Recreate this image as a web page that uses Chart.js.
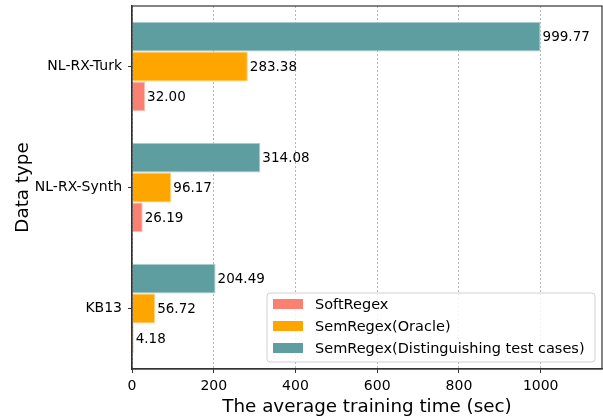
<!DOCTYPE html>
<html>
<head>
<meta charset="utf-8">
<script src="https://cdn.jsdelivr.net/npm/chart.js@4.4.1/dist/chart.umd.min.js"></script>
<style>
    html, body { margin: 0; padding: 0; background: #ffffff; }
    #wrap { width: 603px; height: 419px; }
</style>
</head>
<body>
<div id="wrap"><canvas id="chart" width="603" height="419"></canvas></div>
<script>
/* Data */
const categories = ['NL-RX-Turk', 'NL-RX-Synth', 'KB13'];
const softRegex = [32.00, 26.19, 4.18];
const semRegexOracle = [283.38, 96.17, 56.72];
const semRegexDistinguishing = [999.77, 314.08, 204.49];
const xTicks = [0, 200, 400, 600, 800, 1000];

const FONT = 'DejaVu Sans';

// legend is drawn by hand (inside the plot, lower right, mpl order)
const legendItems = [
    { label: 'SoftRegex', color: '#FA8072' },
    { label: 'SemRegex(Oracle)', color: '#FFA500' },
    { label: 'SemRegex(Distinguishing test cases)', color: '#5F9EA0' },
];

/* Value labels at the end of each bar */
const barLabels = {
    id: 'barLabels',
    afterDatasetsDraw(chart) {
        const ctx = chart.ctx;
        ctx.save();
        ctx.font = '13.5px "' + FONT + '"';
        ctx.fillStyle = '#000000';
        ctx.textBaseline = 'middle';
        ctx.textAlign = 'left';
        chart.data.datasets.forEach((ds, i) => {
            chart.getDatasetMeta(i).data.forEach((bar, j) => {
                ctx.fillText(ds.data[j].toFixed(2), bar.x + 2, bar.y + 1);
            });
        });
        ctx.restore();
    },
};

/* Box round the plot and the legend */
const frameAndLegend = {
    id: 'frameAndLegend',
    afterDraw(chart) {
        const ctx = chart.ctx;
        const a = chart.chartArea;
        ctx.save();
        ctx.strokeStyle = '#333333';
        ctx.lineWidth = 1.2;
        ctx.strokeRect(a.left, a.top, a.right - a.left, a.bottom - a.top);

        // legend box
        const boxR = a.right - 7;
        const boxB = a.bottom - 7;
        const boxL = boxR - 328;
        const boxT = boxB - 69;
        ctx.beginPath();
        ctx.roundRect(boxL, boxT, boxR - boxL, boxB - boxT, 3);
        ctx.fillStyle = 'rgba(255,255,255,0.85)';
        ctx.fill();
        ctx.strokeStyle = '#d0d0d0';
        ctx.lineWidth = 1;
        ctx.stroke();

        ctx.font = '14.5px "' + FONT + '"';
        ctx.textBaseline = 'middle';
        ctx.textAlign = 'left';
        legendItems.forEach((item, i) => {
            const cy = boxT + 11 + i * 22;
            ctx.fillStyle = item.color;
            ctx.fillRect(boxL + 6, cy - 5, 30, 10);
            ctx.fillStyle = '#000000';
            ctx.fillText(item.label, boxL + 48, cy + 1);
        });
        ctx.restore();
    },
};

new Chart(document.getElementById('chart'), {
    type: 'bar',
    data: {
        labels: categories,
        // top-to-bottom inside each group
        datasets: [
            {
                label: 'SemRegex(Distinguishing test cases)',
                data: semRegexDistinguishing,
                backgroundColor: '#5F9EA0',
                borderColor: '#a9d0d1',
                borderWidth: 1,
            },
            {
                label: 'SemRegex(Oracle)',
                data: semRegexOracle,
                backgroundColor: '#FFA500',
                borderColor: '#ffd27f',
                borderWidth: 1,
            },
            {
                label: 'SoftRegex',
                data: softRegex,
                backgroundColor: '#FA8072',
                borderColor: '#fcbdb5',
                borderWidth: 1,
            },
        ],
    },
    options: {
        indexAxis: 'y',
        responsive: false,
        animation: false,
        devicePixelRatio: 1,
        categoryPercentage: 0.74,
        barPercentage: 1.0,
        layout: {
            padding: { top: 6, right: 1, left: 0, bottom: 0 },
        },
        scales: {
            x: {
                min: 0,
                max: 1150,
                afterBuildTicks: (scale) => {
                    scale.ticks = xTicks.map((v) => ({ value: v }));
                },
                afterFit: (scale) => {
                    scale.height = 50;
                    scale.paddingLeft = 0;
                    scale.paddingRight = 0;
                },
                border: { display: true, color: '#333333', width: 1.2, dash: [2, 2] },
                grid: {
                    color: 'rgba(140,140,140,0.8)',
                    lineWidth: 0.8,
                    drawTicks: true,
                    tickLength: 4,
                    tickColor: '#333333',
                    tickWidth: 1,
                    tickBorderDash: [],
                },
                ticks: {
                    color: '#000000',
                    padding: 5,
                    font: { family: FONT, size: 14 },
                    callback: (v) => String(v),
                },
                title: {
                    display: true,
                    text: 'The average training time (sec)',
                    color: '#000000',
                    font: { family: FONT, size: 18.3 },
                    padding: { top: 0, bottom: 1 },
                },
            },
            y: {
                afterFit: (scale) => {
                    scale.width = 132;
                    scale.paddingTop = 0;
                    scale.paddingBottom = 0;
                },
                border: { display: true, color: '#333333', width: 1.2 },
                grid: {
                    display: true,
                    drawOnChartArea: false,
                    drawTicks: true,
                    offset: false,
                    tickLength: 4,
                    tickColor: '#333333',
                    tickWidth: 1,
                },
                ticks: {
                    color: '#000000',
                    padding: 6,
                    font: { family: FONT, size: 14 },
                },
                title: {
                    display: true,
                    text: 'Data type',
                    color: '#000000',
                    font: { family: FONT, size: 18.3 },
                    padding: { top: 12, bottom: 0 },
                },
            },
        },
        plugins: {
            legend: { display: false },
            tooltip: { enabled: false },
        },
    },
    plugins: [barLabels, frameAndLegend],
});
</script>
</body>
</html>
